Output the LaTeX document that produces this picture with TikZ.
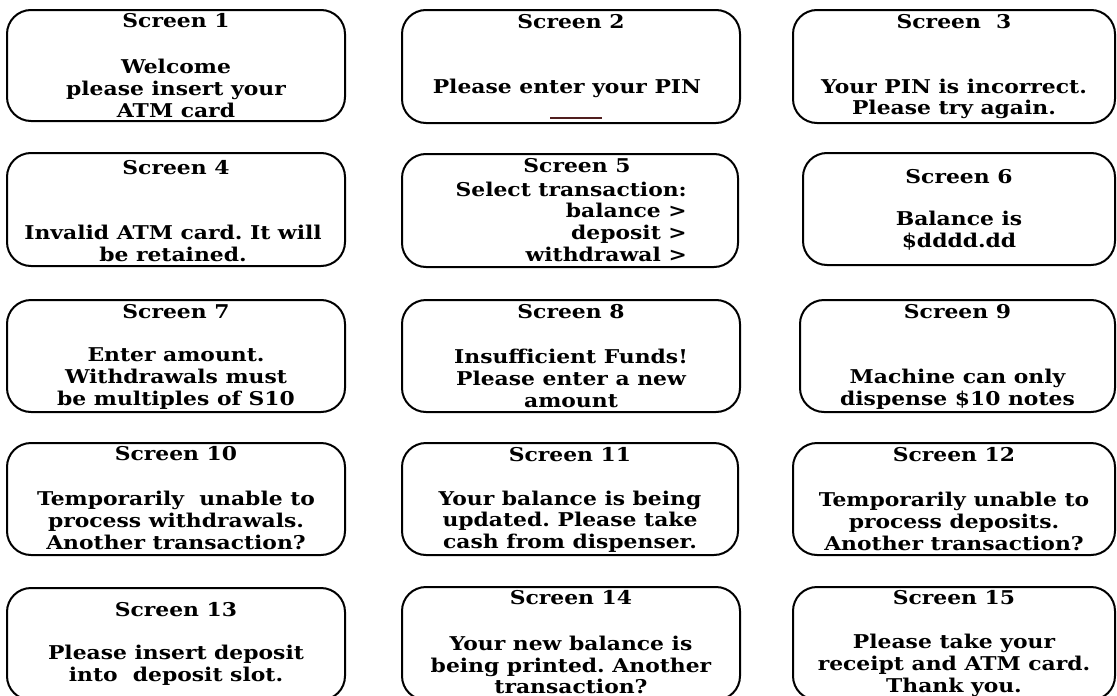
\documentclass[tikz,border=0pt]{standalone}
\usepackage{fontspec}
\setmainfont{DejaVu Serif}[FakeStretch=1.15]
\frenchspacing
\begin{document}
\begin{tikzpicture}[x=1pt,y=-1pt,
  scrbox/.style={draw=black, line width=2pt, rounded corners=24pt, inner sep=0pt},
  scrtitle/.style={font=\bfseries\fontsize{19}{21.7}\selectfont, inner sep=0pt},
  scrtext/.style={font=\bfseries\fontsize{19}{21.7}\selectfont, align=center, inner sep=0pt}
]
\useasboundingbox (0,0) rectangle (1117,696);
\fill[white] (0,0) rectangle (1117,696);
\clip (0,0) rectangle (1117,696);

% ---- row 1
\node[scrbox, minimum width=338pt, minimum height=111pt] (b1) at (176,65.5) {};
\node[scrtitle] (t1) at (176,21) {Screen 1};
\node[scrtext] (m1) at (176,88.5) {Welcome\\please insert your\\ATM card};

\node[scrbox, minimum width=338pt, minimum height=113pt] (b2) at (571,66.5) {};
\node[scrtitle] (t2) at (571,22) {Screen 2};
\node[scrtext] (m2) at (567,88) {Please enter your PIN};
\coordinate (k1) at (550,118);
\coordinate (k2) at (602,118);
\draw[line width=2.5pt, draw={rgb,255:red,80;green,30;blue,30}] (k1) -- (k2);

\node[scrbox, minimum width=322pt, minimum height=113pt] (b3) at (954,66.5) {};
\node[scrtitle] (t3) at (954,22) {Screen\ \ 3};
\node[scrtext] (m3) at (954,99) {Your PIN is incorrect.\\Please try again.};

% ---- row 2
\node[scrbox, minimum width=338pt, minimum height=113pt] (b4) at (176,209.5) {};
\node[scrtitle] (t4) at (176,168) {Screen 4};
\node[scrtext] (m4) at (173,243.5) {Invalid ATM card. It will\\be retained.};

\node[scrbox, minimum width=336pt, minimum height=113pt] (b5) at (570,210.5) {};
\node[scrtitle] (t5) at (577,166) {Screen 5};
\node[scrtext, align=right, anchor=east] (m5) at (687,221.5) {Select transaction:\\balance >\\deposit >\\withdrawal >};

\node[scrbox, minimum width=312pt, minimum height=112pt] (b6) at (959,209) {};
\node[scrtitle] (t6) at (959,177) {Screen 6};
\node[scrtext] (m6) at (959,231) {Balance is\\\$dddd.dd};

% ---- row 3
\node[scrbox, minimum width=338pt, minimum height=112pt] (b7) at (176,356) {};
\node[scrtitle] (t7) at (176,312) {Screen 7};
\node[scrtext] (m7) at (176,378.5) {Enter amount.\\Withdrawals must\\be multiples of S10};

\node[scrbox, minimum width=338pt, minimum height=112pt] (b8) at (571,356) {};
\node[scrtitle] (t8) at (571,312) {Screen 8};
\node[scrtext] (m8) at (571,378.5) {Insufficient Funds!\\Please enter a new\\amount};

\node[scrbox, minimum width=315pt, minimum height=112pt] (b9) at (957.5,356) {};
\node[scrtitle] (t9) at (957.5,312) {Screen 9};
\node[scrtext] (m9) at (957.5,389.5) {Machine can only\\dispense \$10 notes};

% ---- row 4
\node[scrbox, minimum width=338pt, minimum height=112pt] (b10) at (176,499) {};
\node[scrtitle] (t10) at (176,454) {Screen 10};
\node[scrtext] (m10) at (176,520.5) {Temporarily\ \ unable to\\process withdrawals.\\Another transaction?};

\node[scrbox, minimum width=336pt, minimum height=112pt] (b11) at (570,499) {};
\node[scrtitle] (t11) at (570,455) {Screen 11};
\node[scrtext] (m11) at (570,521.5) {Your balance is being\\updated. Please take\\cash from dispenser.};

\node[scrbox, minimum width=322pt, minimum height=112pt] (b12) at (954,499) {};
\node[scrtitle] (t12) at (954,455) {Screen 12};
\node[scrtext] (m12) at (954,521.5) {Temporarily unable to\\process deposits.\\Another transaction?};

% ---- row 5 (runs past the lower edge)
\node[scrbox, minimum width=338pt, minimum height=112pt] (b13) at (176,644) {};
\node[scrtitle] (t13) at (176,610) {Screen 13};
\node[scrtext] (m13) at (176,665) {Please insert deposit\\into\ \ deposit slot.};

\node[scrbox, minimum width=338pt, minimum height=113pt] (b14) at (571,643.5) {};
\node[scrtitle] (t14) at (571,598) {Screen 14};
\node[scrtext] (m14) at (571,665) {Your new balance is\\being printed. Another\\transaction?};

\node[scrbox, minimum width=322pt, minimum height=113pt] (b15) at (954,643.5) {};
\node[scrtitle] (t15) at (954,598) {Screen 15};
\node[scrtext] (m15) at (954,665.5) {Please take your\\receipt and ATM card.\\Thank you.};
\end{tikzpicture}
\end{document}
